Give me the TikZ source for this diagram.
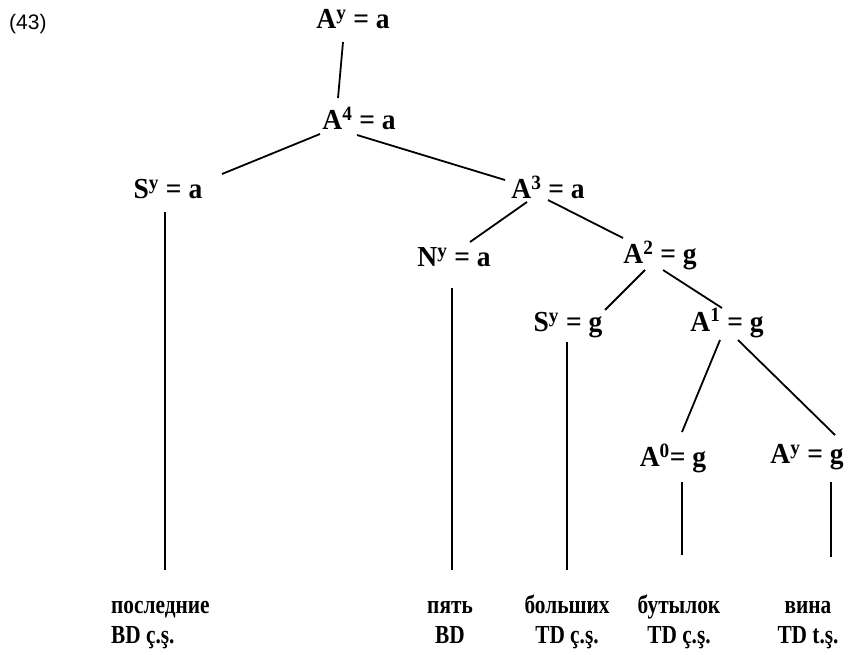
\documentclass[tikz,border=0pt]{standalone}
\usepackage{fontspec}
\setmainfont{Liberation Serif}
\newfontfamily\labfont{Liberation Serif}[FakeStretch=0.82]
\newfontfamily\nodefont{Liberation Serif}[FakeStretch=0.95]
\newfontfamily\numfont{Liberation Sans}
\begin{document}
\begin{tikzpicture}[x=1pt,y=-1pt,
  tn/.style={inner sep=0pt,font=\nodefont\fontsize{29}{30}\selectfont\bfseries},
  lab/.style={inner sep=0pt,anchor=base,align=center,font=\labfont\fontsize{26}{30}\selectfont\bfseries},
  br/.style={line width=1.8pt}]
\useasboundingbox (0,0) rectangle (850,654);
\node[anchor=base west,inner sep=0pt,font=\numfont\fontsize{21}{24}\selectfont] (num) at (9,29) {(43)};
\node[tn] (top) at (353,19) {A\textsuperscript{y} = a};
\node[tn] (a4) at (359,118) {A\textsuperscript{4} = a};
\node[tn] (sa) at (168,189) {S\textsuperscript{y} = a};
\node[tn] (a3) at (548,187) {A\textsuperscript{3} = a};
\node[tn] (na) at (454,257) {N\textsuperscript{y} = a};
\node[tn] (a2) at (660,255) {A\textsuperscript{2} = g};
\node[tn] (sg) at (568,325) {S\textsuperscript{y} = g};
\node[tn] (a1) at (727,323) {A\textsuperscript{1} = g};
\node[tn] (a0) at (673,458) {A\textsuperscript{0}= g};
\node[tn] (ayg) at (807,457) {A\textsuperscript{y} = g};
\node[lab,anchor=base west,align=left] (l1) at (111,643) {последние\\BD ç.ş.};
\node[lab] (l2) at (450,643) {пять\\BD};
\node[lab] (l3) at (567,643) {больших\\TD ç.ş.};
\node[lab] (l4) at (679,643) {бутылок\\TD ç.ş.};
\node[lab] (l5) at (808,643) {вина\\TD t.ş.};
\draw[br] ([shift={(-10,23)}]top.center) -- ([shift={(-21,-20)}]a4.center);
\draw[br] ([shift={(-39,16)}]a4.center) -- ([shift={(54,-15)}]sa.center);
\draw[br] ([shift={(-2,17)}]a4.center) -- ([shift={(-43,-7)}]a3.center);
\draw[br] ([shift={(-21,15)}]a3.center) -- ([shift={(16,-15)}]na.center);
\draw[br] ([shift={(0,13)}]a3.center) -- ([shift={(-37,-17)}]a2.center);
\draw[br] ([shift={(-15,15)}]a2.center) -- ([shift={(37,-15)}]sg.center);
\draw[br] ([shift={(3,15)}]a2.center) -- ([shift={(-5,-15)}]a1.center);
\draw[br] ([shift={(-7,17)}]a1.center) -- ([shift={(9,-26)}]a0.center);
\draw[br] ([shift={(11,17)}]a1.center) -- ([shift={(28,-22)}]ayg.center);
\draw[br] ([shift={(-3,23)}]sa.center) -- ([shift={(54,-73)}]l1.base west);
\draw[br] ([shift={(-2,31)}]na.center) -- ([shift={(2,-73)}]l2.base);
\draw[br] ([shift={(-1,17)}]sg.center) -- ([shift={(0,-73)}]l3.base);
\draw[br] ([shift={(9,24)}]a0.center) -- ([shift={(3,-88)}]l4.base);
\draw[br] ([shift={(24,25)}]ayg.center) -- ([shift={(23,-86)}]l5.base);
\end{tikzpicture}
\end{document}
